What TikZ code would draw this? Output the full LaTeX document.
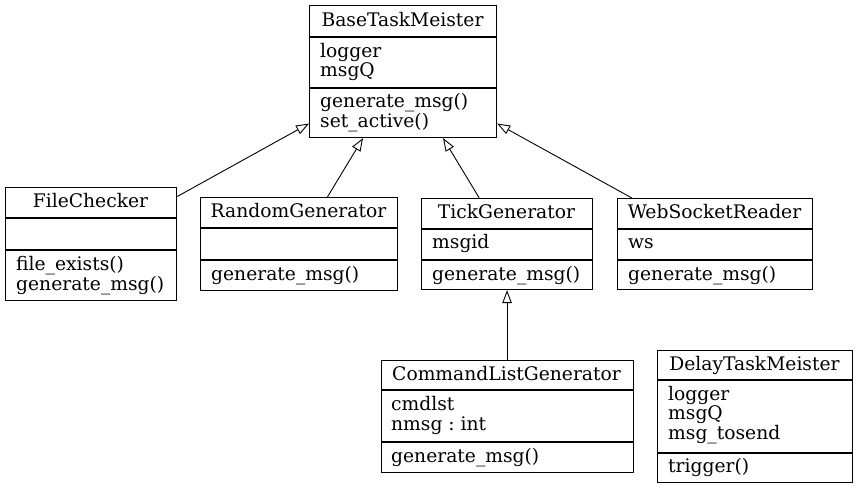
\documentclass[tikz,border=0pt]{standalone}
\usepackage{fontspec}
\setmainfont{DejaVu Serif}
\usetikzlibrary{arrows.meta}
\frenchspacing
\tikzset{
  classbox/.style={draw, line width=1.1pt, inner sep=0pt, anchor=north west},
  divider/.style={line width=1.1pt},
  titletext/.style={anchor=base, inner sep=0pt, font=\fontsize{18.7}{20}\selectfont},
  membertext/.style={anchor=base west, inner sep=0pt, font=\fontsize{18.7}{20}\selectfont},
  inherit/.style={-{Triangle[open, length=13pt, width=9.5pt]}, line width=0.9pt}
}
\begin{document}
\begin{tikzpicture}[x=1pt, y=-1pt]
\useasboundingbox (0,0) rectangle (857,488);

% BaseTaskMeister
\node[classbox, minimum width=187pt, minimum height=132pt] (base) at (309,5) {};
\draw[divider] (base.west |- 0,37) -- (base.east |- 0,37);
\draw[divider] (base.west |- 0,88) -- (base.east |- 0,88);
\node[titletext] (base-t) at (402.5,26) {BaseTaskMeister};
\node[membertext] (base-a1) at (320,57) {logger};
\node[membertext] (base-a2) at (320,76) {msgQ};
\node[membertext] (base-m1) at (320,107) {generate\_msg()};
\node[membertext] (base-m2) at (320,127) {set\_active()};

% FileChecker
\node[classbox, minimum width=171pt, minimum height=113pt] (fc) at (5,187) {};
\draw[divider] (fc.west |- 0,218) -- (fc.east |- 0,218);
\draw[divider] (fc.west |- 0,250) -- (fc.east |- 0,250);
\node[titletext] (fc-t) at (90.5,207) {FileChecker};
\node[membertext] (fc-m1) at (16,270) {file\_exists()};
\node[membertext] (fc-m2) at (16,290) {generate\_msg()};

% RandomGenerator
\node[classbox, minimum width=197pt, minimum height=93pt] (rg) at (200,197) {};
\draw[divider] (rg.west |- 0,228) -- (rg.east |- 0,228);
\draw[divider] (rg.west |- 0,260) -- (rg.east |- 0,260);
\node[titletext] (rg-t) at (298.5,217) {RandomGenerator};
\node[membertext] (rg-m1) at (211,280) {generate\_msg()};

% TickGenerator
\node[classbox, minimum width=171pt, minimum height=91pt] (tg) at (421,198) {};
\draw[divider] (tg.west |- 0,229) -- (tg.east |- 0,229);
\draw[divider] (tg.west |- 0,260) -- (tg.east |- 0,260);
\node[titletext] (tg-t) at (506.5,218) {TickGenerator};
\node[membertext] (tg-a1) at (432,248) {msgid};
\node[membertext] (tg-m1) at (432,280) {generate\_msg()};

% WebSocketReader
\node[classbox, minimum width=195pt, minimum height=91pt] (ws) at (617,198) {};
\draw[divider] (ws.west |- 0,229) -- (ws.east |- 0,229);
\draw[divider] (ws.west |- 0,260) -- (ws.east |- 0,260);
\node[titletext] (ws-t) at (714.5,218) {WebSocketReader};
\node[membertext] (ws-a1) at (628,248) {ws};
\node[membertext] (ws-m1) at (628,280) {generate\_msg()};

% CommandListGenerator
\node[classbox, minimum width=252pt, minimum height=112pt] (cl) at (380.5,360) {};
\draw[divider] (cl.west |- 0,390) -- (cl.east |- 0,390);
\draw[divider] (cl.west |- 0,442) -- (cl.east |- 0,442);
\node[titletext] (cl-t) at (506.5,380) {CommandListGenerator};
\node[membertext] (cl-a1) at (391,410) {cmdlst};
\node[membertext] (cl-a2) at (391,430) {nmsg : int};
\node[membertext] (cl-m1) at (391,462) {generate\_msg()};

% DelayTaskMeister
\node[classbox, minimum width=195pt, minimum height=132pt] (dt) at (657,350) {};
\draw[divider] (dt.west |- 0,380) -- (dt.east |- 0,380);
\draw[divider] (dt.west |- 0,453) -- (dt.east |- 0,453);
\node[titletext] (dt-t) at (754.5,370) {DelayTaskMeister};
\node[membertext] (dt-a1) at (668,400) {logger};
\node[membertext] (dt-a2) at (668,419) {msgQ};
\node[membertext] (dt-a3) at (668,439) {msg\_tosend};
\node[membertext] (dt-m1) at (668,472) {trigger()};

% Inheritance
\draw[inherit] (fc) -- (base);
\draw[inherit] (rg) -- (base);
\draw[inherit] (tg) -- (base);
\draw[inherit] (ws) -- (base);
\draw[inherit] (cl) -- (tg);
\end{tikzpicture}
\end{document}
